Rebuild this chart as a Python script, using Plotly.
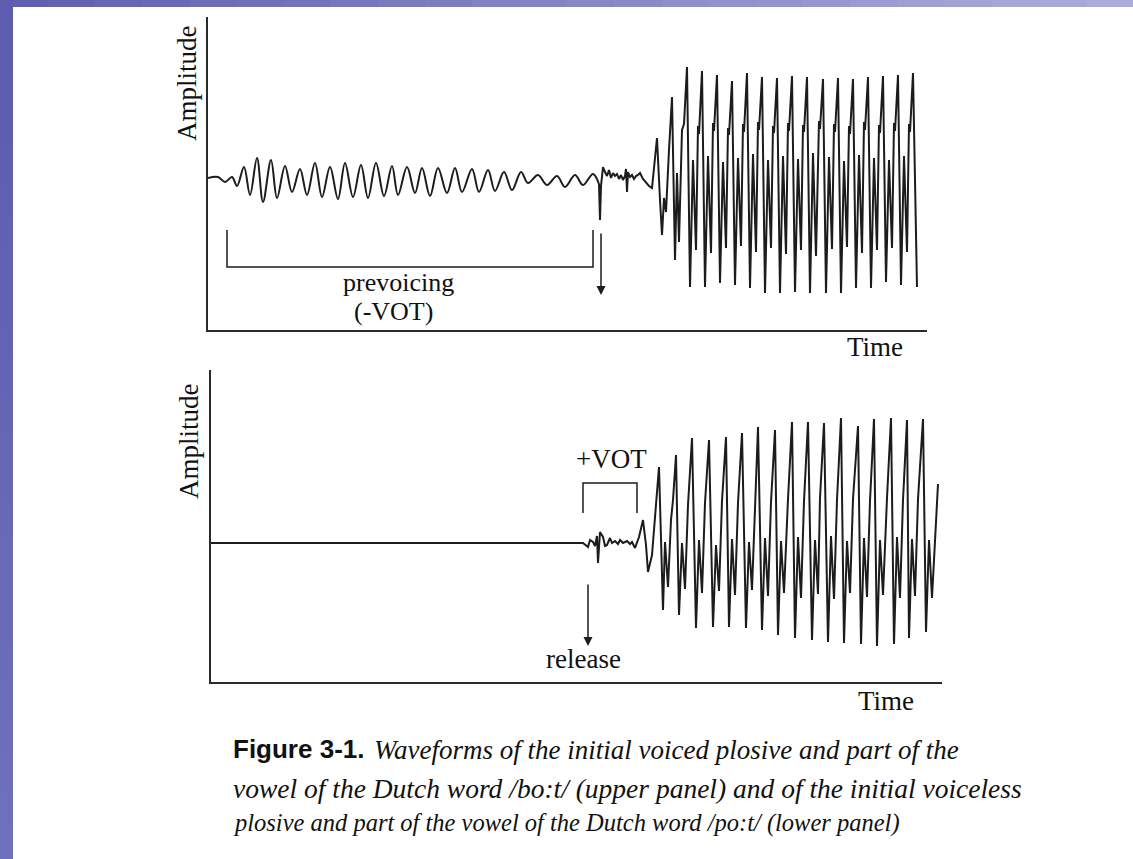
import plotly.graph_objects as go

# ---------------- data (time in arbitrary units, amplitude in arbitrary units) ----------------
# Upper panel /bo:t/ : prevoicing (local extrema of the periodic prevoicing)
prev_t = [0, 10, 17, 24, 29, 36, 42, 49, 55, 63, 69, 77, 84, 92, 99, 107, 114, 122, 130, 137,
          145, 153, 160, 168, 176, 184, 190, 199, 207, 214, 222, 230, 239, 247, 254, 264, 271, 280,
          287, 296, 304, 313, 320, 330, 339, 349, 357, 367, 375, 385, 391]
prev_a = [0, 1, -4, 1, -8, 11, -17, 20, -24, 18, -20, 12, -14, 9, -17, 15, -19, 11, -21, 15,
          -19, 13, -20, 15, -18, 12, -17, 11, -15, 10, -18, 10, -15, 10, -14, 9, -14, 8,
          -13, 6, -12, 6, -5, 3, -7, 2, -9, 3, -7, 4, -6]

# Upper panel: release burst and onset of the vowel
top_burst_t = [391, 392, 393, 395, 397, 399, 401, 403, 405, 407, 409, 411, 413, 415, 417, 418, 419, 420,
               422, 424, 426, 428, 430, 432, 435, 438, 441, 444, 447, 449, 452, 454, 456, 458, 461, 464,
               467, 469, 471, 474, 476]
top_burst_a = [-6, -42, -8, 11, 6, 2, 8, 0, 5, 2, 4, -1, 3, -2, 2, 9, -14, 6,
               1, 3, -1, 2, 3, 5, -1, -5, -8, -10, 18, 40, -22, -57, -20, -34, 28, 81,
               -82, 5, -64, 48, 54]

# Upper panel: vowel periods
top_vowel_t = [479, 482, 485, 488, 490, 491, 494, 497, 500, 503, 505, 506, 509, 512, 515, 518, 520, 521,
               524, 527, 530, 533, 535, 536, 539, 542, 545, 548, 550, 551, 554, 557, 560, 563, 565, 566,
               569, 572, 575, 578, 580, 581, 584, 587, 590, 593, 595, 596, 599, 602, 605, 608, 611, 612,
               615, 618, 621, 624, 626, 627, 630, 633, 636, 639, 641, 642, 645, 648, 651, 654, 656, 657,
               660, 663, 666, 669, 671, 672, 675, 678, 681, 684, 686, 687, 690, 693, 696, 699, 701, 702,
               705, 709]
top_vowel_a = [111, -109, 18, -72, 52, 44, 107, -109, 22, -75, 55, 47, 103, -105, 16, -70, 50, 43,
               97, -107, 20, -68, 54, 46, 105, -110, 24, -74, 56, 48, 101, -115, 18, -70, 52, 45,
               100, -115, 22, -76, 55, 47, 102, -114, 19, -72, 53, 46, 101, -115, 25, -78, 57, 49,
               99, -115, 21, -71, 54, 46, 100, -115, 17, -69, 52, 44, 99, -110, 23, -75, 56, 48,
               101, -110, 20, -72, 53, 45, 102, -104, 18, -70, 55, 47, 103, -107, 22, -74, 54, 46,
               105, -109]

# Lower panel /po:t/ : silence, release burst, vowel
bot_burst_t = [0, 372, 377, 379, 382, 384, 386, 387, 389, 392, 394, 396, 399, 401, 404, 407, 409, 412,
               416, 419, 421, 424, 428, 432, 435, 437, 441, 445, 448, 452, 454, 457, 460, 462]
bot_burst_a = [0, 0, -4, 3, 1, -3, 7, -20, 11, 6, -3, -2, 5, 0, 2, -1, 3, 0,
               2, -1, 1, -5, 6, 23, -2, -29, -12, 43, 76, -67, 1, -44, 23, 43]

bot_vowel_t = [465, 468, 471, 474, 477, 481, 485, 488, 491, 494, 498, 502, 505, 508, 511,
               515, 518, 521, 524, 527, 531, 535, 538, 541, 544, 547, 551, 554, 557, 560,
               564, 567, 570, 573, 577, 581, 584, 587, 590, 593, 597, 601, 604, 607, 609,
               613, 617, 620, 623, 626, 630, 633, 636, 639, 642, 647, 650, 653, 656, 659,
               663, 666, 669, 672, 676, 680, 683, 686, 689, 692, 696, 698, 701, 704, 707,
               712, 715, 718, 721, 727]
bot_vowel_a = [88, -72, 0, -46, 38, 105, -85, 3, -50, 40, 103, -84, -2, -48, 42,
               106, -84, 4, -52, 40, 110, -85, 1, -47, 43, 116, -87, 5, -53, 41,
               113, -92, 2, -50, 44, 121, -95, 6, -55, 42, 121, -97, 3, -51, 45,
               120, -99, 7, -56, 43, 125, -100, 2, -50, 44, 117, -101, 5, -54, 42,
               124, -103, 3, -52, 45, 125, -101, 6, -55, 43, 123, -95, 4, -53, 44,
               124, -89, 3, -55, 59]

# annotation positions in data units
prevoicing_bracket = dict(start=19, end=385, top=-52, bottom=-89)
release_top = dict(t=393, tail=-54, head=-117)
vot_bracket = dict(start=372, end=426, low=30, high=60)
release_bottom = dict(t=377, tail=-40, head=-103)

caption_l1 = "Waveforms of the initial voiced plosive and part of the"
caption_l2 = "vowel of the Dutch word /bo:t/ (upper panel) and of the initial voiceless"
caption_l3 = "plosive and part of the vowel of the Dutch word /po:t/ (lower panel)"

# ---------------- figure ----------------
W, H = 1133, 859
def fx(px):
    return px / W
def fy(py):
    return 1 - py / H

INK = '#1c1c1c'
SERIF = 'Liberation Serif, Times New Roman, serif'

fig = go.Figure()
fig.add_trace(go.Scatter(x=prev_t, y=prev_a, mode='lines',
                         line=dict(color=INK, width=2, shape='spline', smoothing=1.0),
                         xaxis='x', yaxis='y', hoverinfo='skip', showlegend=False))
fig.add_trace(go.Scatter(x=top_burst_t + top_vowel_t, y=top_burst_a + top_vowel_a, mode='lines',
                         line=dict(color=INK, width=2),
                         xaxis='x', yaxis='y', hoverinfo='skip', showlegend=False))
fig.add_trace(go.Scatter(x=bot_burst_t + bot_vowel_t, y=bot_burst_a + bot_vowel_a, mode='lines',
                         line=dict(color=INK, width=2),
                         xaxis='x2', yaxis='y2', hoverinfo='skip', showlegend=False))

axis_style = dict(showline=True, linecolor='#2a2a2a', linewidth=2, showticklabels=False,
                  ticks='', showgrid=False, zeroline=False, fixedrange=True)

shapes = []
# decorative slide border (top and left strips)
nseg = 24
for i in range(nseg):
    f = i / (nseg - 1)
    r = int(96 + f * (172 - 96)); g = int(96 + f * (172 - 96)); b = int(178 + f * (218 - 178))
    shapes.append(dict(type='rect', xref='paper', yref='paper', layer='below',
                       x0=i / nseg, x1=(i + 1) / nseg + 0.002, y0=fy(7), y1=1,
                       fillcolor=f'rgb({r},{g},{b})', line=dict(width=0)))
for i in range(nseg):
    f = i / (nseg - 1)
    r = int(92 + f * 20); g = int(92 + f * 20); b = int(176 + f * 14)
    shapes.append(dict(type='rect', xref='paper', yref='paper', layer='below',
                       x0=0, x1=fx(13), y0=1 - (i + 1) / nseg - 0.002, y1=1 - i / nseg,
                       fillcolor=f'rgb({r},{g},{b})', line=dict(width=0)))

pb = prevoicing_bracket
shapes.append(dict(type='path', xref='x', yref='y',
                   path=f"M {pb['start']},{pb['top']} L {pb['start']},{pb['bottom']} "
                        f"L {pb['end']},{pb['bottom']} L {pb['end']},{pb['top']}",
                   line=dict(color=INK, width=1.5)))
vb = vot_bracket
shapes.append(dict(type='path', xref='x2', yref='y2',
                   path=f"M {vb['start']},{vb['low']} L {vb['start']},{vb['high']} "
                        f"L {vb['end']},{vb['high']} L {vb['end']},{vb['low']}",
                   line=dict(color=INK, width=1.5)))

def label(text, px, py, size=27, angle=0, xanchor='center', family=SERIF, color='#111'):
    return dict(text=text, x=fx(px), y=fy(py), xref='paper', yref='paper', showarrow=False,
                xanchor=xanchor, yanchor='middle', textangle=angle,
                font=dict(family=family, size=size, color=color))

annotations = [
    label('Amplitude', 187, 83, angle=-90),
    label('Amplitude', 189, 441, angle=-90),
    label('prevoicing', 398, 282, size=26),
    label('(-VOT)', 393, 311, size=26),
    label('Time', 875, 347),
    label('+VOT', 611, 459),
    label('release', 583, 659),
    label('Time', 886, 701),
    label('<b>Figure 3-1.</b>', 231, 749, size=26,
          xanchor='left', family='Liberation Sans, Arial, sans-serif'),
    label('<i>' + caption_l1 + '</i>', 372, 750, size=27, xanchor='left'),
    label('<i>' + caption_l2 + '</i>', 231, 788, size=27.5, xanchor='left'),
    label('<i>' + caption_l3 + '</i>', 231, 823, size=24.5, xanchor='left'),
]
rt = release_top
annotations.append(dict(x=rt['t'], y=rt['head'], ax=rt['t'], ay=rt['tail'], xref='x', yref='y',
                        axref='x', ayref='y', text='', showarrow=True, arrowhead=2, arrowsize=1.2,
                        arrowwidth=1.5, arrowcolor=INK))
rb = release_bottom
annotations.append(dict(x=rb['t'], y=rb['head'], ax=rb['t'], ay=rb['tail'], xref='x2', yref='y2',
                        axref='x2', ayref='y2', text='', showarrow=True, arrowhead=2, arrowsize=1.2,
                        arrowwidth=1.5, arrowcolor=INK))

fig.update_layout(
    width=W, height=H, autosize=False,
    margin=dict(l=0, r=0, t=0, b=0),
    paper_bgcolor='white', plot_bgcolor='rgba(0,0,0,0)',
    xaxis=dict(domain=[fx(208), fx(927)], range=[0, 719], anchor='y', **axis_style),
    yaxis=dict(domain=[fy(330), fy(17)], range=[-152, 161], anchor='x', **axis_style),
    xaxis2=dict(domain=[fx(211), fx(942)], range=[0, 731], anchor='y2', **axis_style),
    yaxis2=dict(domain=[fy(682), fy(370)], range=[-139, 173], anchor='x2', **axis_style),
    shapes=shapes,
    annotations=annotations,
    showlegend=False,
)

fig.write_html("out.html", config={'displayModeBar': False},
               post_script="document.body.style.margin='0';document.body.style.padding='0';"
                           "document.documentElement.style.overflow='hidden';")
